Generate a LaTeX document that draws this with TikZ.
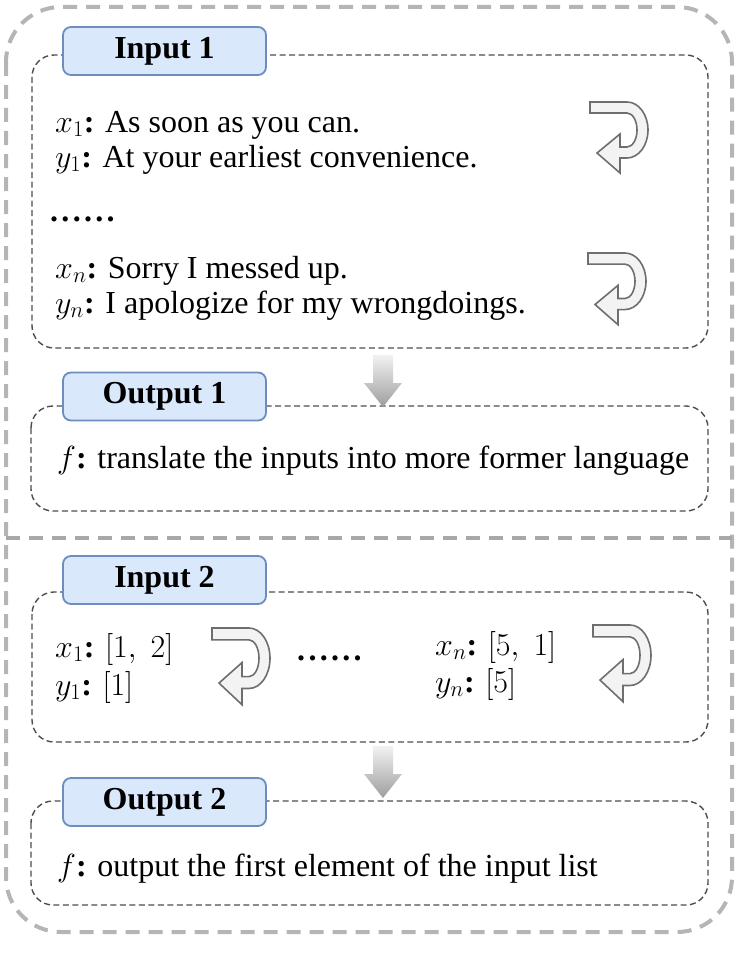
\RequirePackage{fix-cm}
\documentclass[tikz,border=0pt]{standalone}
\usepackage{fontspec}
\setmainfont{Liberation Serif}
\definecolor{outergray}{HTML}{B5B5B5}
\definecolor{divgray}{HTML}{A8A8A8}
\definecolor{boxgray}{HTML}{4D4D4D}
\definecolor{tagfill}{HTML}{DAE8FC}
\definecolor{tagborder}{HTML}{6C8EBF}
\definecolor{arrowgray}{HTML}{6E6E6E}
\definecolor{arrowfill}{HTML}{F3F3F3}
\definecolor{shadetop}{HTML}{F2F2F2}
\definecolor{shadebot}{HTML}{9E9E9E}
\newcommand\UTurn[3]{%
  \draw[uturn, shift={(#1,#2)}, yscale=#3]
    (0,0) -- (37,0)
    .. controls (48.6,0) and (58,12.5) .. (58,28)
    .. controls (58,43.5) and (48.6,56) .. (37,56)
    -- (30,56) -- (30,71) -- (7,51) -- (30,32) -- (30,45) -- (37,45)
    .. controls (42.5,45) and (47,37.4) .. (47,28)
    .. controls (47,18.6) and (42.5,11) .. (37,11)
    -- (0,11) -- cycle;}
\newcommand\DownArrow[2]{%
  \shade[top color=shadetop, bottom color=shadebot, shift={(0,#1)}]
    (373,0) -- (393,0) -- (393,#2) -- (402,#2) -- (383,52) -- (364,#2) -- (373,#2) -- cycle;}
\newcommand\dotrow{\textbf{.\kern3.3pt.\kern3.3pt.\kern3.3pt.\kern3.3pt.\kern3.3pt.}}
\begin{document}
\begin{tikzpicture}[x=1pt, y=-1pt,
  outer/.style={draw=outergray, line width=4pt, dash pattern=on 14pt off 9pt, rounded corners=55pt},
  divider/.style={draw=divgray, line width=4pt, dash pattern=on 14pt off 9pt},
  dbox/.style={draw=boxgray, line width=1.4pt, dash pattern=on 6pt off 3.5pt, rounded corners=22pt},
  tag/.style={draw=tagborder, fill=tagfill, line width=1.8pt, rounded corners=8pt,
    minimum width=203pt, minimum height=48pt, inner sep=0pt, font=\fontsize{32}{38}\selectfont\bfseries},
  txt/.style={anchor=base west, inner sep=0pt, font=\fontsize{32}{38}\selectfont},
  uturn/.style={draw=arrowgray, fill=arrowfill, line width=1.6pt, line join=miter}]
\useasboundingbox (0,0) rectangle (748,955);
% outer frame and divider
\draw[outer] (6,7) rectangle (732,932);
\draw[divider] (6,538) -- (732,538);
% dashed content boxes
\draw[dbox] (32,55) rectangle (708,348);
\draw[dbox] (31,406) rectangle (708,511);
\draw[dbox] (32,592) rectangle (708,742);
\draw[dbox] (31,801) rectangle (708,905);
% down arrows
\DownArrow{355}{28}
\DownArrow{746}{28}
% tags
\node[tag] (in1) at (164.5,51) {Input 1};
\node[tag] (out1) at (164.5,396.5) {Output 1};
\node[tag] (in2) at (164.5,580) {Input 2};
\node[tag] (out2) at (164.5,802) {Output 2};
% Input 1 texts
\node[txt] (x1a) at (55,132) {$x_1$\textbf{:} As soon as you can.};
\node[txt] (y1a) at (55,167) {$y_1$\textbf{:} At your earliest convenience.};
\node[txt] (dotsa) at (50,221) {\dotrow};
\node[txt] (xna) at (55,278) {$x_n$\textbf{:} Sorry I messed up.};
\node[txt] (yna) at (55,313) {$y_n$\textbf{:} I apologize for my wrongdoings.};
\UTurn{590}{102}{1}
\UTurn{588}{253}{1.01}
% Output 1
\node[txt] (f1) at (57,468) {$f$\textbf{:} translate the inputs into more former language};
% Input 2 texts
\node[txt] (x1b) at (55,657) {$x_1$\textbf{:} $[1,\;2]$};
\node[txt] (y1b) at (55,695) {$y_1$\textbf{:} $[1]$};
\node[txt] (dotsb) at (297,660) {\dotrow};
\node[txt] (xnb) at (435,655) {$x_n$\textbf{:} $[5,\;1]$};
\node[txt] (ynb) at (435,692) {$y_n$\textbf{:} $[5]$};
\UTurn{212}{628}{1.08}
\UTurn{593}{625}{1.08}
% Output 2
\node[txt] (f2) at (57,876) {$f$\textbf{:} output the first element of the input list};
\end{tikzpicture}
\end{document}
